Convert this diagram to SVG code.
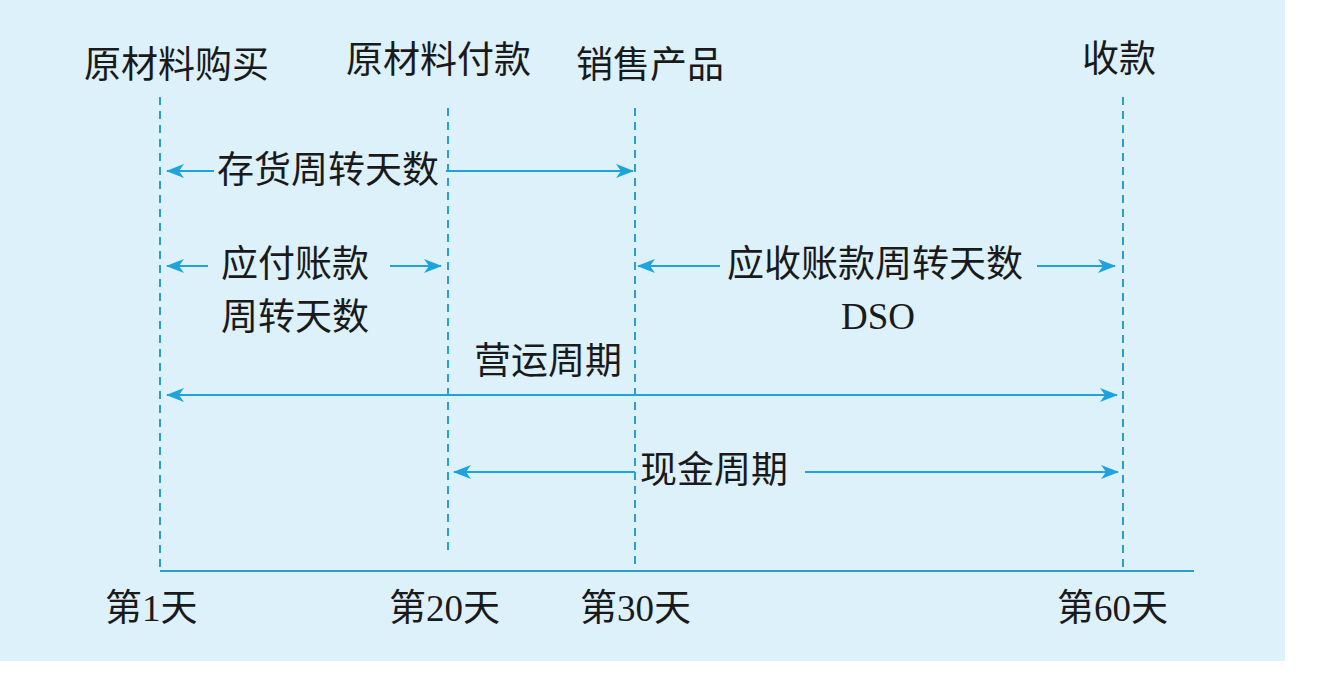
<svg xmlns="http://www.w3.org/2000/svg" width="1326" height="678" viewBox="0 0 1326 678">
<style>
.t{font-family:"Liberation Serif","Noto Sans CJK SC",serif;font-size:37px;fill:#1a1a1a}
.d{stroke:#2a9fcf;stroke-width:2;stroke-dasharray:8,6;fill:none}
.a{stroke:#1fa3de;stroke-width:2.2;fill:none}
</style>
<defs>
<marker id="ah" viewBox="0 0 18 14" refX="17" refY="7" markerWidth="18" markerHeight="14" markerUnits="userSpaceOnUse" orient="auto-start-reverse">
<path d="M0,0 L18,7 L0,14 L5,7 Z" fill="#1fa3de"/>
</marker>
</defs>
<rect x="0" y="0" width="1285" height="661" fill="#ddf1fa"/>
<g id="guides">
<line class="d" x1="160" y1="97" x2="160" y2="571"/>
<line class="d" x1="448" y1="108" x2="448" y2="555"/>
<line class="d" x1="635" y1="108" x2="635" y2="571"/>
<line class="d" x1="1123" y1="97" x2="1123" y2="571"/>
<line x1="160" y1="571" x2="1194" y2="571" stroke="#2a9fcf" stroke-width="2"/>
</g>
<g id="connectors">
<line class="a" x1="214" y1="171" x2="167" y2="171" marker-end="url(#ah)"/>
<line class="a" x1="446" y1="171" x2="633" y2="171" marker-end="url(#ah)"/>
<line class="a" x1="208" y1="266" x2="167" y2="266" marker-end="url(#ah)"/>
<line class="a" x1="390" y1="266" x2="441" y2="266" marker-end="url(#ah)"/>
<line class="a" x1="720" y1="266" x2="638" y2="266" marker-end="url(#ah)"/>
<line class="a" x1="1037" y1="266" x2="1115" y2="266" marker-end="url(#ah)"/>
<line class="a" x1="167" y1="395" x2="1117" y2="395" marker-start="url(#ah)" marker-end="url(#ah)"/>
<line class="a" x1="635" y1="472" x2="454" y2="472" marker-end="url(#ah)"/>
<line class="a" x1="805" y1="472" x2="1118" y2="472" marker-end="url(#ah)"/>
</g>
<g id="top-labels">
<text class="t" x="84" y="78">原材料购买</text>
<text class="t" x="346" y="73">原材料付款</text>
<text class="t" x="576" y="78">销售产品</text>
<text class="t" x="1082" y="72">收款</text>
</g>
<g id="inventory-days"><text class="t" x="217" y="183">存货周转天数</text></g>
<g id="payable-days"><text class="t" x="221" y="277">应付账款</text><text class="t" x="221" y="330">周转天数</text></g>
<g id="receivable-days"><text class="t" x="727" y="277">应收账款周转天数</text><text class="t" x="878" y="329" text-anchor="middle">DSO</text></g>
<g id="operating-cycle"><text class="t" x="474" y="374">营运周期</text></g>
<g id="cash-cycle"><text class="t" x="640" y="483">现金周期</text></g>
<g id="axis-labels">
<text class="t" x="105" y="621">第1天</text>
<text class="t" x="389" y="621">第20天</text>
<text class="t" x="580" y="621">第30天</text>
<text class="t" x="1057" y="621">第60天</text>
</g>
</svg>
